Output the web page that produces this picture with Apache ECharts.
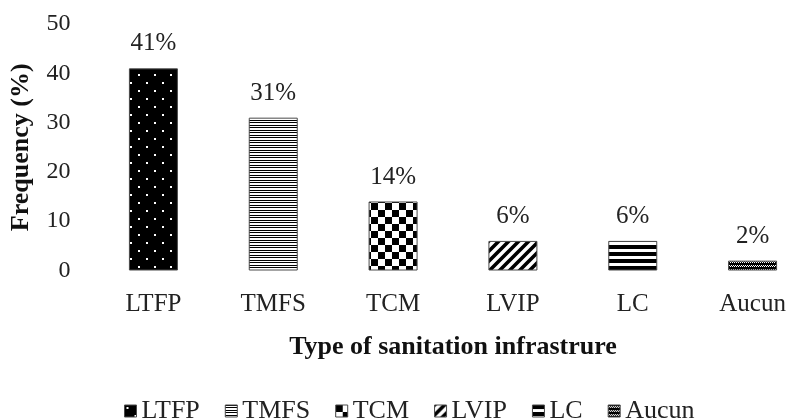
<!DOCTYPE html>
<html>
<head>
<meta charset="utf-8">
<script src="https://cdn.jsdelivr.net/npm/echarts@6/dist/echarts.min.js"></script>
<style>
  html, body { margin: 0; padding: 0; background: #ffffff; }
  #chart { width: 789px; height: 420px; }
</style>
</head>
<body>
<div id="chart"></div>
<script>
// Sanitation infrastructure frequencies
const categories = ['LTFP', 'TMFS', 'TCM', 'LVIP', 'LC', 'Aucun'];
const frequencies = [41, 31, 14, 6, 6, 2];
const yTicks = [0, 10, 20, 30, 40, 50];

const FONT = '"Liberation Serif", "Times New Roman", serif';

// Monochrome fill patterns, one per category
function tile(w, h, draw) {
  const c = document.createElement('canvas');
  c.width = w; c.height = h;
  const g = c.getContext('2d');
  draw(g, w, h);
  return { image: c, repeat: 'repeat' };
}

const patterns = {
  LTFP: tile(16, 16, (g, w, h) => {
    g.fillStyle = '#000'; g.fillRect(0, 0, w, h);
    g.fillStyle = '#fff';
    g.fillRect(2, 2, 2, 2);
    g.fillRect(10, 10, 2, 2);
  }),
  TMFS: tile(4, 5, (g, w, h) => {
    g.fillStyle = '#fff'; g.fillRect(0, 0, w, h);
    g.fillStyle = '#000';
    g.fillRect(0, 0, w, 1);
    g.fillRect(0, 2, w, 1);
  }),
  TCM: tile(14, 14, (g, w, h) => {
    g.fillStyle = '#fff'; g.fillRect(0, 0, w, h);
    g.fillStyle = '#000';
    g.fillRect(0, 0, 7, 7);
    g.fillRect(7, 7, 7, 7);
  }),
  LVIP: tile(10, 10, (g, w, h) => {
    g.fillStyle = '#fff'; g.fillRect(0, 0, w, h);
    g.strokeStyle = '#000'; g.lineWidth = 3.6;
    g.beginPath();
    g.moveTo(-5, 5); g.lineTo(5, -5);
    g.moveTo(0, 10); g.lineTo(10, 0);
    g.moveTo(5, 15); g.lineTo(15, 5);
    g.stroke();
  }),
  LC: tile(4, 7, (g, w, h) => {
    g.fillStyle = '#fff'; g.fillRect(0, 0, w, h);
    g.fillStyle = '#000'; g.fillRect(0, 0, w, 4);
  }),
  Aucun: tile(4, 4, (g, w, h) => {
    g.fillStyle = '#000'; g.fillRect(0, 0, w, h);
    g.fillStyle = '#fff';
    g.fillRect(0, 2, 1, 1);
    g.fillRect(1, 1, 1, 1);
    g.fillRect(2, 2, 1, 1);
    g.fillRect(3, 1, 1, 1);
  })
};

// One series per category so each bar gets its own legend entry
const series = categories.map((name, i) => ({
  name: name,
  type: 'bar',
  stack: 'all',
  barWidth: 49,
  data: categories.map((c, j) => (j === i ? frequencies[i] : null)),
  itemStyle: {
    color: patterns[name],
    borderColor: '#4a4a4a',
    borderWidth: 1
  },
  label: {
    show: true,
    position: 'top',
    distance: 12,
    formatter: p => p.value + '%',
    fontFamily: FONT,
    fontSize: 25,
    color: '#222'
  }
}));

const chart = echarts.init(document.getElementById('chart'), null, { renderer: 'canvas' });
chart.setOption({
  animation: false,
  backgroundColor: '#ffffff',
  textStyle: { fontFamily: FONT },
  // the plot area runs past the right edge of the canvas
  grid: { left: 93.5, right: -23.5, top: 24, bottom: 149.5, outerBoundsMode: 'none', containLabel: false },
  legend: {
    data: categories,
    left: 119,
    top: 393,
    icon: 'rect',
    itemWidth: 12,
    itemHeight: 12,
    itemGap: 25,
    textStyle: { fontFamily: FONT, fontSize: 26, color: '#222' },
    itemStyle: { borderColor: '#4a4a4a', borderWidth: 1 }
  },
  xAxis: {
    type: 'category',
    data: categories,
    axisLine: { show: false },
    axisTick: { show: false },
    axisLabel: { fontFamily: FONT, fontSize: 25, color: '#222', margin: 21 },
    name: 'Type of sanitation infrastrure',
    nameLocation: 'middle',
    nameGap: 64,
    nameTextStyle: { fontFamily: FONT, fontSize: 26, fontWeight: 'bold', color: '#111' }
  },
  yAxis: {
    type: 'value',
    min: yTicks[0],
    max: yTicks[yTicks.length - 1],
    interval: yTicks[1] - yTicks[0],
    axisLine: { show: false },
    axisTick: { show: false },
    splitLine: { show: false },
    axisLabel: { fontFamily: FONT, fontSize: 24, color: '#222', margin: 23 },
    name: 'Frequency (%)',
    nameLocation: 'middle',
    nameRotate: 90,
    nameGap: 59,
    nameTextStyle: { fontFamily: FONT, fontSize: 26, fontWeight: 'bold', color: '#111' }
  },
  series: series
});
</script>
</body>
</html>
